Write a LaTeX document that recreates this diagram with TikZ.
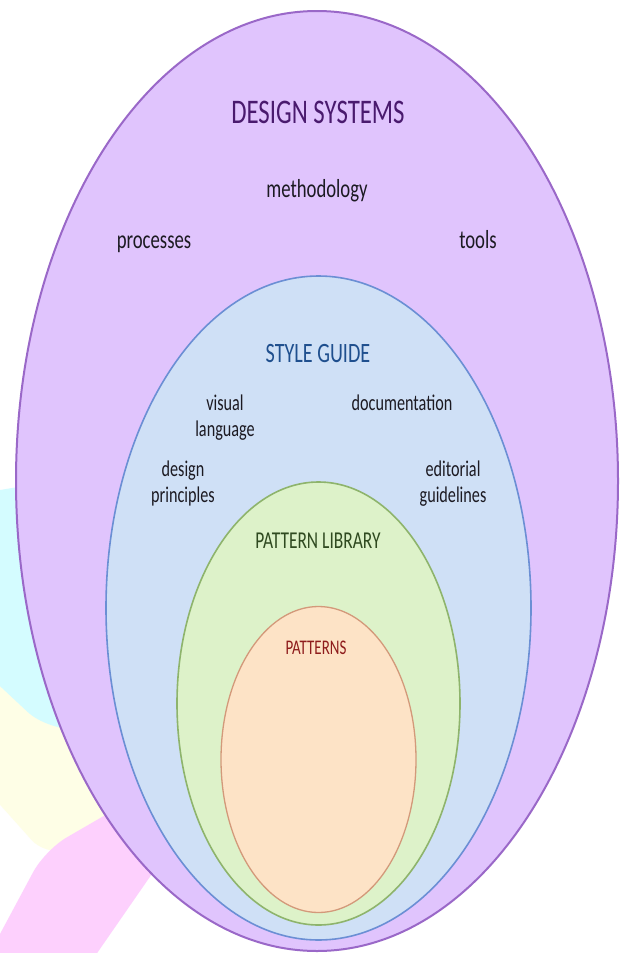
\documentclass[tikz,border=0pt]{standalone}
\usepackage{fontspec}
\setmainfont{Carlito}[FakeStretch=0.72]
\definecolor{dsfill}{HTML}{E0C4FD}
\definecolor{dsline}{HTML}{9A68C8}
\definecolor{sgfill}{HTML}{CFE0F6}
\definecolor{sgline}{HTML}{6B8FD4}
\definecolor{plfill}{HTML}{DDF2C9}
\definecolor{plline}{HTML}{8EB46C}
\definecolor{ptfill}{HTML}{FDE3C6}
\definecolor{ptline}{HTML}{D3997A}
\definecolor{dstext}{HTML}{4A1A6E}
\definecolor{sgtext}{HTML}{1F4F8E}
\definecolor{pltext}{HTML}{2F4A20}
\definecolor{pttext}{HTML}{8E1C1C}
\definecolor{lbltext}{HTML}{1C1A22}
\definecolor{blobcyan}{HTML}{D4FCFF}
\definecolor{blobyellow}{HTML}{FEFEE6}
\definecolor{blobpink}{HTML}{FDD0FD}
\begin{document}
\begin{tikzpicture}[x=1pt,y=-1pt,
  lbl/.style={anchor=base, inner sep=0pt, text=lbltext, align=center},
  outerlbl/.style={lbl, font=\fontsize{26}{26}\selectfont},
  innerlbl/.style={lbl, font=\fontsize{22.5}{26}\selectfont},
  title/.style={anchor=base, inner sep=0pt}]
\fill[white] (0,0) rectangle (622,953);
\useasboundingbox (0,0) rectangle (622,953);
% background blobs
\begin{scope}
\clip (0,0) rectangle (622,953);
\fill[blobyellow, rounded corners=20pt] (-40,680) -- (110,690) -- (150,830) -- (45,855) -- (-40,760) -- cycle;
\fill[blobcyan, rounded corners=28pt] (-60,500) -- (120,470) -- (160,722) -- (48,731) -- (-60,630) -- cycle;
\fill[blobpink, rounded corners=25pt] (-30,990) -- (45,850) -- (140,795) -- (165,855) -- (75,985) -- cycle;
\end{scope}
% nested ellipses
\draw[dsline, fill=dsfill, line width=2pt] (317,481) ellipse [x radius=301pt, y radius=470pt];
\draw[sgline, fill=sgfill, line width=1.6pt] (318.5,608) ellipse [x radius=212.5pt, y radius=332pt];
\draw[plline, fill=plfill, line width=1.6pt] (318.5,703.5) ellipse [x radius=141.5pt, y radius=221.5pt];
\draw[ptline, fill=ptfill, line width=1.3pt] (318.5,759.5) ellipse [x radius=97.5pt, y radius=153pt];
% titles
\node[title, text=dstext, font=\fontsize{34.5}{34.5}\selectfont] (ds) at (318,123) {DESIGN SYSTEMS};
\node[title, text=sgtext, font=\fontsize{28}{28}\selectfont] (sg) at (318,362) {STYLE GUIDE};
\node[title, text=pltext, font=\fontsize{24.2}{24.2}\selectfont] (pl) at (318,548) {PATTERN LIBRARY};
\node[title, text=pttext, font=\fontsize{20.8}{20.8}\selectfont] (pt) at (316,654) {PATTERNS};
% outer labels
\node[outerlbl] (meth) at (317,197) {methodology};
\node[outerlbl] (proc) at (154,248) {processes};
\node[outerlbl] (tools) at (478,248) {tools};
% inner labels (base = baseline of last line)
\node[innerlbl] (vis) at (225,436) {visual\\language};
\node[innerlbl] (doc) at (402,410) {documentation};
\node[innerlbl] (dp) at (183,502) {design\\principles};
\node[innerlbl] (ed) at (453,502) {editorial\\guidelines};
\end{tikzpicture}
\end{document}
